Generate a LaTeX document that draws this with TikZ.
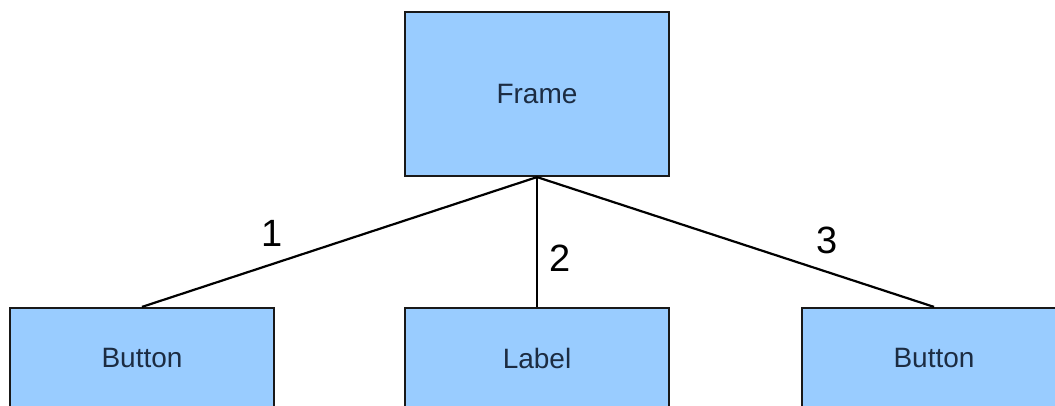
\documentclass[tikz,border=0pt]{standalone}
\usepackage{fontspec}
\setmainfont{Liberation Sans}
\definecolor{boxfill}{RGB}{153,204,255}
\definecolor{boxtext}{RGB}{28,44,66}
\begin{document}
\begin{tikzpicture}[x=1pt,y=1pt,
  widget/.style={rectangle, draw=black!90, fill=boxfill, line width=2.2pt,
    minimum width=264pt, inner sep=0pt, text=boxtext,
    font=\fontsize{28}{32}\selectfont},
  link/.style={draw=black, line width=2.2pt},
  order/.style={text=black, inner sep=0pt, font=\fontsize{38}{44}\selectfont}]
  \useasboundingbox (0,0) rectangle (1055,-406);
  \clip (0,0) rectangle (1055,-406);

  % parent container
  \node[widget, minimum height=164pt] (frame) at (537,-94) {Frame};

  % children
  \node[widget, minimum height=100pt] (btnA)  at (142,-358) {Button};
  \node[widget, minimum height=100pt] (lbl)   at (537,-358) {Label};
  \node[widget, minimum height=100pt] (btnB)  at (934,-358) {Button};

  % containment links
  \draw[link] (frame.south) -- (btnA.north);
  \draw[link] (frame.south) -- (lbl.north);
  \draw[link] (frame.south) -- (btnB.north);

  % child order
  \node[order] (n1) at (272,-233) {1};
  \node[order] (n2) at (560,-258) {2};
  \node[order] (n3) at (827,-240) {3};
\end{tikzpicture}
\end{document}
